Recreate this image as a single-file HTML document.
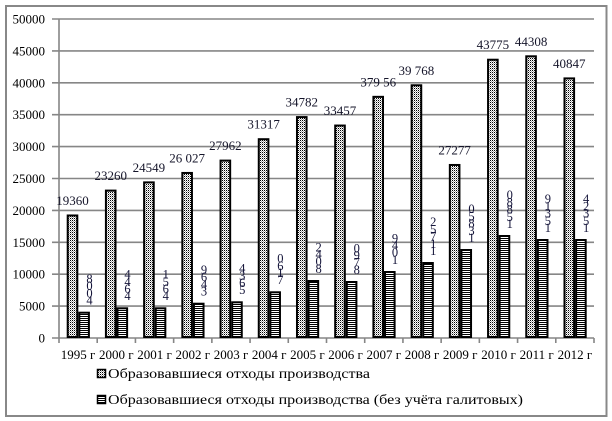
<!DOCTYPE html>
<html><head><meta charset="utf-8"><style>
html,body{margin:0;padding:0;background:#fff;}
svg{display:block;}
text{font-family:"Liberation Serif","DejaVu Serif",serif;}
</style></head><body>
<svg width="612" height="421" viewBox="0 0 612 421" xmlns="http://www.w3.org/2000/svg" font-family="Liberation Serif, serif">
<defs>
<pattern id="dots" patternUnits="userSpaceOnUse" width="2" height="2">
<rect width="2" height="2" fill="#fff"/><rect x="0" y="0" width="1" height="1" fill="#000"/><rect x="1" y="1" width="1" height="1" fill="#000" fill-opacity="0.35"/>
</pattern>
<pattern id="stripes" patternUnits="userSpaceOnUse" width="2" height="2">
<rect width="2" height="2" fill="#fff"/><rect x="0" y="0" width="2" height="1" fill="#000"/>
</pattern>
</defs>
<rect x="0" y="0" width="612" height="421" fill="#fff"/>
<rect x="6" y="6" width="600.5" height="410" fill="none" stroke="#888" stroke-width="2"/>
<g stroke="#868686" stroke-width="1.6">
<line x1="52" y1="19" x2="594" y2="19"/>
<line x1="52" y1="50.9" x2="594" y2="50.9"/>
<line x1="52" y1="82.8" x2="594" y2="82.8"/>
<line x1="52" y1="114.7" x2="594" y2="114.7"/>
<line x1="52" y1="146.6" x2="594" y2="146.6"/>
<line x1="52" y1="178.5" x2="594" y2="178.5"/>
<line x1="52" y1="210.4" x2="594" y2="210.4"/>
<line x1="52" y1="242.3" x2="594" y2="242.3"/>
<line x1="52" y1="274.2" x2="594" y2="274.2"/>
<line x1="52" y1="306.1" x2="594" y2="306.1"/>
<line x1="52" y1="338" x2="594" y2="338"/>
<line x1="59" y1="19" x2="59" y2="338"/>
<line x1="59" y1="338" x2="59" y2="343"/>
<line x1="97.21" y1="338" x2="97.21" y2="343"/>
<line x1="135.43" y1="338" x2="135.43" y2="343"/>
<line x1="173.64" y1="338" x2="173.64" y2="343"/>
<line x1="211.86" y1="338" x2="211.86" y2="343"/>
<line x1="250.07" y1="338" x2="250.07" y2="343"/>
<line x1="288.28" y1="338" x2="288.28" y2="343"/>
<line x1="326.5" y1="338" x2="326.5" y2="343"/>
<line x1="364.71" y1="338" x2="364.71" y2="343"/>
<line x1="402.93" y1="338" x2="402.93" y2="343"/>
<line x1="441.14" y1="338" x2="441.14" y2="343"/>
<line x1="479.36" y1="338" x2="479.36" y2="343"/>
<line x1="517.57" y1="338" x2="517.57" y2="343"/>
<line x1="555.79" y1="338" x2="555.79" y2="343"/>
<line x1="594" y1="338" x2="594" y2="343"/>
</g>
<g font-size="13" fill="#000" text-anchor="end">
<text x="45" y="23.5">50000</text>
<text x="45" y="55.4">45000</text>
<text x="45" y="87.3">40000</text>
<text x="45" y="119.2">35000</text>
<text x="45" y="151.1">30000</text>
<text x="45" y="183">25000</text>
<text x="45" y="214.9">20000</text>
<text x="45" y="246.8">15000</text>
<text x="45" y="278.7">10000</text>
<text x="45" y="310.6">5000</text>
<text x="45" y="342.5">0</text>
</g>
<!-- big bars -->
<g fill="url(#dots)" stroke="#000" stroke-width="2">
<rect x="67.7" y="215.48" width="9.6" height="121.52"/>
<rect x="105.91" y="190.6" width="9.6" height="146.4"/>
<rect x="144.13" y="182.38" width="9.6" height="154.62"/>
<rect x="182.34" y="172.95" width="9.6" height="164.05"/>
<rect x="220.56" y="160.6" width="9.6" height="176.4"/>
<rect x="258.77" y="139.2" width="9.6" height="197.8"/>
<rect x="296.98" y="117.09" width="9.6" height="219.91"/>
<rect x="335.2" y="125.54" width="9.6" height="211.46"/>
<rect x="373.41" y="96.84" width="9.6" height="240.16"/>
<rect x="411.63" y="85.28" width="9.6" height="251.72"/>
<rect x="449.84" y="164.97" width="9.6" height="172.03"/>
<rect x="488.06" y="59.72" width="9.6" height="277.28"/>
<rect x="526.27" y="56.31" width="9.6" height="280.69"/>
<rect x="564.49" y="78.4" width="9.6" height="258.6"/>
</g>
<!-- small bars -->
<g fill="url(#stripes)" stroke="#000" stroke-width="2">
<rect x="79.3" y="312.7" width="9.6" height="24.3"/>
<rect x="117.51" y="308.3" width="9.6" height="28.7"/>
<rect x="155.73" y="308.3" width="9.6" height="28.7"/>
<rect x="193.94" y="303.7" width="9.6" height="33.3"/>
<rect x="232.16" y="302.3" width="9.6" height="34.7"/>
<rect x="270.37" y="292.3" width="9.6" height="44.7"/>
<rect x="308.58" y="281" width="9.6" height="56"/>
<rect x="346.8" y="282" width="9.6" height="55"/>
<rect x="385.01" y="272" width="9.6" height="65"/>
<rect x="423.23" y="263" width="9.6" height="74"/>
<rect x="461.44" y="250" width="9.6" height="87"/>
<rect x="499.66" y="236" width="9.6" height="101"/>
<rect x="537.87" y="240" width="9.6" height="97"/>
<rect x="576.09" y="240" width="9.6" height="97"/>
</g>
<!-- big labels -->
<g font-size="13" fill="#15152a" text-anchor="middle">
<text x="72.5" y="205">19360</text>
<text x="110.7" y="180.1">23260</text>
<text x="148.9" y="171.9">24549</text>
<text x="187.1" y="162.4">26 027</text>
<text x="225.4" y="150.1">27962</text>
<text x="263.6" y="128.7">31317</text>
<text x="301.8" y="106.6">34782</text>
<text x="340" y="115">33457</text>
<text x="378.2" y="86.3">379 56</text>
<text x="416.4" y="74.8">39 768</text>
<text x="454.6" y="154.5">27277</text>
<text x="492.9" y="49.2">43775</text>
<text x="531.1" y="45.8">44308</text>
<text x="569.3" y="67.9">40847</text>
</g>
<!-- small stacked labels -->
<g font-size="12.5" fill="#15153a" text-anchor="middle">
<text x="89.5" y="283">8</text><text x="89.5" y="290.2">0</text><text x="89.5" y="297.4">0</text><text x="89.5" y="304.6">4</text>
<text x="127.5" y="278.6">4</text><text x="127.5" y="285.8">4</text><text x="127.5" y="293">6</text><text x="127.5" y="300.2">4</text>
<text x="165.7" y="278.6">1</text><text x="165.7" y="285.8">5</text><text x="165.7" y="293">6</text><text x="165.7" y="300.2">4</text>
<text x="204" y="274">9</text><text x="204" y="281.2">6</text><text x="204" y="288.4">4</text><text x="204" y="295.6">3</text>
<text x="242.2" y="272.6">4</text><text x="242.2" y="279.8">3</text><text x="242.2" y="287">6</text><text x="242.2" y="294.2">5</text>
<text x="280.4" y="262.6">0</text><text x="280.4" y="269.8">6</text><text x="280.4" y="277">1</text><text x="280.4" y="284.2">7</text>
<text x="318.6" y="251.3">2</text><text x="318.6" y="258.5">4</text><text x="318.6" y="265.7">0</text><text x="318.6" y="272.9">8</text>
<text x="356.8" y="252.3">0</text><text x="356.8" y="259.5">9</text><text x="356.8" y="266.7">7</text><text x="356.8" y="273.9">8</text>
<text x="395" y="242.3">9</text><text x="395" y="249.5">4</text><text x="395" y="256.7">0</text><text x="395" y="263.9">1</text>
<text x="433.2" y="226.2">2</text><text x="433.2" y="233.4">5</text><text x="433.2" y="240.6">7</text><text x="433.2" y="247.8">1</text><text x="433.2" y="255">1</text>
<text x="471.5" y="213.2">0</text><text x="471.5" y="220.4">5</text><text x="471.5" y="227.6">8</text><text x="471.5" y="234.8">3</text><text x="471.5" y="242">1</text>
<text x="509.7" y="199.2">0</text><text x="509.7" y="206.4">8</text><text x="509.7" y="213.6">8</text><text x="509.7" y="220.8">5</text><text x="509.7" y="228">1</text>
<text x="547.9" y="203.2">9</text><text x="547.9" y="210.4">1</text><text x="547.9" y="217.6">3</text><text x="547.9" y="224.8">5</text><text x="547.9" y="232">1</text>
<text x="586.1" y="203.2">4</text><text x="586.1" y="210.4">2</text><text x="586.1" y="217.6">3</text><text x="586.1" y="224.8">5</text><text x="586.1" y="232">1</text>
</g>
<!-- x labels -->
<g font-size="13" fill="#000" text-anchor="middle">
<text x="78.1" y="359">1995 г</text>
<text x="116.3" y="359">2000 г</text>
<text x="154.5" y="359">2001 г</text>
<text x="192.8" y="359">2002 г</text>
<text x="231" y="359">2003 г</text>
<text x="269.2" y="359">2004 г</text>
<text x="307.4" y="359">2005 г</text>
<text x="345.6" y="359">2006 г</text>
<text x="383.8" y="359">2007 г</text>
<text x="422" y="359">2008 г</text>
<text x="460.2" y="359">2009 г</text>
<text x="498.5" y="359">2010 г</text>
<text x="536.7" y="359">2011 г</text>
<text x="574.9" y="359">2012 г</text>
</g>
<!-- legend -->
<rect x="97.5" y="369.5" width="8" height="8" fill="url(#dots)" stroke="#000" stroke-width="1.5"/>
<text x="108" y="378" font-size="14" fill="#000" textLength="262" lengthAdjust="spacingAndGlyphs">Образовавшиеся отходы производства</text>
<rect x="97.5" y="395.5" width="8" height="8" fill="url(#stripes)" stroke="#000" stroke-width="1.5"/>
<text x="108" y="404" font-size="14" fill="#000" textLength="415" lengthAdjust="spacingAndGlyphs">Образовавшиеся отходы производства (без учёта галитовых)</text>
</svg>
</body></html>
